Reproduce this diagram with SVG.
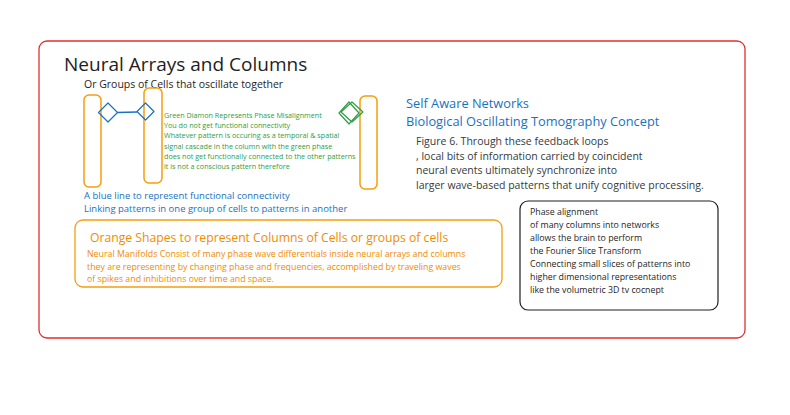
<svg xmlns="http://www.w3.org/2000/svg" width="790" height="415" viewBox="0 0 790 415">
<style>
text{font-family:"Open Sans","Noto Sans","Liberation Sans",sans-serif}
.col{fill:none;stroke:#f59e0b;stroke-width:1.5}
.blue{fill:#1971c2}
.green{fill:#2f9e44;font-size:7.2px}
.gray{fill:#343a40;font-size:10.5px}
.orange{fill:#f08c00}
.dk{fill:#1e1e1e;font-size:8.8px}
</style>
<rect width="790" height="415" fill="#ffffff"/>
<g id="frame"><rect x="39" y="41" width="706" height="297" rx="8" fill="none" stroke="#e03131" stroke-width="1.3"/></g>
<g id="title">
<text x="64" y="70.5" font-size="19" fill="#1e1e1e">Neural Arrays and Columns</text>
<text x="84" y="87.5" font-size="10.5" fill="#1e1e1e">Or Groups of Cells that oscillate together</text>
</g>
<g id="col1"><rect class="col" x="84" y="95" width="17" height="92" rx="5"/></g>
<g id="col2"><rect class="col" x="144" y="88" width="18" height="95" rx="5"/></g>
<g id="col3"><rect class="col" x="360" y="96" width="17" height="93" rx="5"/></g>
<g id="diamond1"><path d="M108 103 L117.5 112.5 L108 122 L98.5 112.5 Z" fill="none" stroke="#1971c2" stroke-width="1.2" stroke-linejoin="round"/></g>
<g id="diamond2"><path d="M145.5 103 L154 111.5 L145.5 120 L137 111.5 Z" fill="none" stroke="#1971c2" stroke-width="1.2" stroke-linejoin="round"/></g>
<g id="diamond3">
<path d="M349 102 L359 113 L349 124 L339 113 Z" fill="none" stroke="#2f9e44" stroke-width="1.2" stroke-linejoin="round"/>
<path d="M352 102 L363 112 L352 122 L341 112 Z" fill="none" stroke="#2f9e44" stroke-width="1.2" stroke-linejoin="round"/>
</g>
<g id="connectors"><line x1="117.5" y1="112.5" x2="137" y2="112" stroke="#1971c2" stroke-width="1.3"/></g>
<g id="green-note">
<text class="green" x="164" y="118">Green Diamon Represents Phase Misalignment</text>
<text class="green" x="164" y="128">You do not get functional connectivity</text>
<text class="green" x="164" y="138">Whatever pattern is occuring as a temporal &amp; spatial</text>
<text class="green" x="164" y="148.5">signal cascade in the column with the green phase</text>
<text class="green" x="164" y="158.5">does not get functionally connected to the other patterns</text>
<text class="green" x="164" y="168.5">it is not a conscious pattern therefore</text>
</g>
<g id="heading">
<text class="blue" x="406" y="108" font-size="12.8">Self Aware Networks</text>
<text class="blue" x="406" y="126" font-size="12.8">Biological Oscillating Tomography Concept</text>
</g>
<g id="figure-text">
<text class="gray" x="416" y="145">Figure 6. Through these feedback loops</text>
<text class="gray" x="416" y="160">, local bits of information carried by coincident</text>
<text class="gray" x="416" y="174">neural events ultimately synchronize into</text>
<text class="gray" x="416" y="189">larger wave-based patterns that unify cognitive processing.</text>
</g>
<g id="blue-note">
<text class="blue" x="84" y="199" font-size="9.5">A blue line to represent functional connectivity</text>
<text class="blue" x="84" y="212" font-size="9.5">Linking patterns in one group of cells to patterns in another</text>
</g>
<g id="orange-box">
<rect x="75" y="220" width="427" height="67" rx="8" fill="none" stroke="#f59e0b" stroke-width="1.3"/>
<text class="orange" x="90" y="242" font-size="12.2">Orange Shapes to represent Columns of Cells or groups of cells</text>
<text class="orange" x="87" y="257" font-size="8.8">Neural Manifolds Consist of many phase wave differentials inside neural arrays and columns</text>
<text class="orange" x="87" y="270" font-size="8.8">they are representing by changing phase and frequencies, accomplished by traveling waves</text>
<text class="orange" x="87" y="282" font-size="8.8">of spikes and inhibitions over time and space.</text>
</g>
<g id="phase-box">
<rect x="520" y="201" width="198" height="109" rx="8" fill="none" stroke="#1e1e1e" stroke-width="1.2"/>
<text class="dk" x="530" y="215">Phase alignment</text>
<text class="dk" x="530" y="228">of many columns into networks</text>
<text class="dk" x="530" y="241">allows the brain to perform</text>
<text class="dk" x="530" y="254">the Fourier Slice Transform</text>
<text class="dk" x="530" y="267">Connecting small slices of patterns into</text>
<text class="dk" x="530" y="280">higher dimensional representations</text>
<text class="dk" x="530" y="293">like the volumetric 3D tv cocnept</text>
</g>
</svg>
